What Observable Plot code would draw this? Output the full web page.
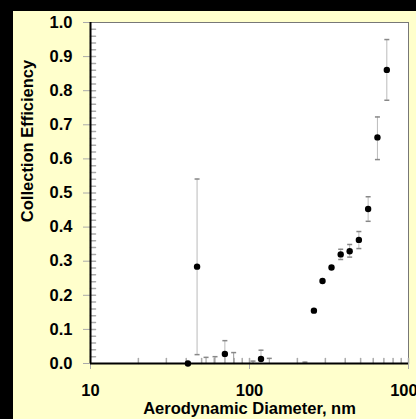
<!DOCTYPE html>
<html><head><meta charset="utf-8">
<script src="https://cdn.jsdelivr.net/npm/d3@7"></script>
<script src="https://cdn.jsdelivr.net/npm/@observablehq/plot@0.6"></script>
<style>
html,body{margin:0;padding:0;background:#000;width:416px;height:419px;overflow:hidden}
#panel{position:absolute;left:13px;top:11px;width:403px;height:408px;background:#FFFFCC;overflow:hidden}
</style></head><body><div id="panel"></div>
<script>
// Measured points
const diameter   = [41.0, 46.8, 70.0, 118.1, 254.2, 287.9, 327.9, 374.6, 426.6, 487.4, 557.4, 637.7, 730.6];
const efficiency = [0, 0.284, 0.028, 0.0135, 0.155, 0.242, 0.2815, 0.320, 0.329, 0.3625, 0.453, 0.663, 0.861];
const errLow     = [0, 0.026, 0, 0, 0.155, 0.242, 0.2815, 0.305, 0.312, 0.337, 0.417, 0.598, 0.772];
const errHigh    = [0, 0.541, 0.067, 0.039, 0.155, 0.242, 0.2815, 0.335, 0.349, 0.387, 0.489, 0.723, 0.950];
// Error bars whose points lie at/below zero (dots hidden)
const hiddenDiameter = [53.3, 60.7, 79.5, 105.2, 133.2, 223.2];
const hiddenHigh     = [0.018, 0.020, 0.032, 0.007, 0.015, 0.004];
// Axes
const xDomain = [10, 1000];
const yDomain = [0, 1];
const xTicks = [10, 100, 1000];
const xMinor = [20,30,40,50,60,70,80,90,100,200,300,400,500,600,700,800,900,1000];
const yTicks = [0,0.1,0.2,0.3,0.4,0.5,0.6,0.7,0.8,0.9,1.0];
const yMinor = [0.02,0.04,0.06,0.08,0.1,0.12,0.14,0.16,0.18,0.2,0.22,0.24,0.26,0.28,0.3,0.32,0.34,0.36,0.38,0.4,
  0.42,0.44,0.46,0.48,0.5,0.52,0.54,0.56,0.58,0.6,0.62,0.64,0.66,0.68,0.7,0.72,0.74,0.76,0.78,0.8,0.82,0.84,0.86,0.88,0.9,0.92,0.94,0.96,0.98];
const xTitle = "Aerodynamic Diameter, nm";
const yTitle = "Collection Efficiency";

const rows = diameter.map((d, i) => ({d, e: efficiency[i], lo: errLow[i], hi: errHigh[i]}));
const bars = rows.filter(r => r.hi > r.lo);
const lowCaps = bars.filter(r => r.lo > 0);
const hidden = hiddenDiameter.map((d, i) => ({d, lo: 0, hi: hiddenHigh[i]}));

const capShape = {draw(ctx) { ctx.moveTo(-2.5, 0); ctx.lineTo(2.5, 0); }};
const tickShape = {draw(ctx, l) { ctx.moveTo(0, 0); ctx.lineTo(0, -l); }};
const font = "'Liberation Sans', Arial, sans-serif";

const chart = Plot.plot({
  width: 403, height: 408,
  marginLeft: 77, marginTop: 11, marginRight: 8, marginBottom: 56,
  style: {background: "transparent", fontFamily: font, fontSize: "16.5px", color: "black", overflow: "hidden"},
  x: {type: "log", domain: xDomain},
  y: {domain: yDomain},
  marks: [
    Plot.frame({fill: "white", stroke: "#777"}),
    Plot.vector(yMinor, {y: d => d, frameAnchor: "left", rotate: 90, length: 5, anchor: "start", shape: tickShape, stroke: "#aaa"}),
    Plot.vector(xMinor, {x: d => d, frameAnchor: "bottom", rotate: 0, length: 5, anchor: "start", shape: tickShape, stroke: "#aaa"}),
    Plot.axisY({ticks: yTicks, tickFormat: d => d.toFixed(1), tickSize: 7, tickPadding: 11, stroke: "#aaa", fill: "black", label: null, fontSize: 16.5, fontWeight: "bold"}),
    Plot.axisX({ticks: xTicks, tickFormat: d => String(d), tickSize: 6, tickPadding: 15, stroke: "#aaa", fill: "black", label: null, fontSize: 16.5, fontWeight: "bold"}),
    Plot.ruleX(bars, {x: "d", y1: "lo", y2: "hi", stroke: "#bbb"}),
    Plot.ruleX(hidden, {x: "d", y1: "lo", y2: "hi", stroke: "#999"}),
    Plot.dot(bars, {x: "d", y: "hi", symbol: capShape, stroke: "#888", r: 3}),
    Plot.dot(lowCaps, {x: "d", y: "lo", symbol: capShape, stroke: "#888", r: 3}),
    Plot.dot(hidden, {x: "d", y: "hi", symbol: capShape, stroke: "#888", r: 3}),
    Plot.ruleY([yDomain[0]], {stroke: "black", strokeWidth: 2}),
    Plot.ruleX([xDomain[0]], {stroke: "black", strokeWidth: 2}),
    Plot.dot(rows, {x: "d", y: "e", r: 3.2, fill: "black"}),
    Plot.text([yTitle], {text: d => d, frameAnchor: "left", textAnchor: "middle", lineAnchor: "middle", rotate: -90, dx: -63, dy: -52, fontSize: 16.5, fontWeight: "bold", fill: "black"}),
    Plot.text([xTitle], {text: d => d, frameAnchor: "bottom", textAnchor: "middle", lineAnchor: "middle", dy: 45, fontSize: 16.5, fontWeight: "bold", fill: "black"})
  ]
});
document.getElementById("panel").appendChild(chart);
</script>
</body></html>
